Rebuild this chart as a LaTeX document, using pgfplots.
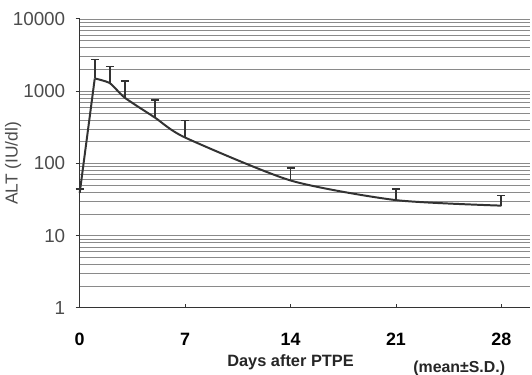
\documentclass[border=0pt]{standalone}
\usepackage{pgfplots}
\pgfplotsset{compat=1.18}
\usepackage{fontspec}
\setmainfont{Liberation Sans}
\definecolor{ln}{HTML}{333333}
\definecolor{gr}{HTML}{8A8A8A}
\begin{document}
\begin{tikzpicture}
\path[use as bounding box] (-80bp,-67bp) rectangle (454bp,309bp);
\begin{axis}[
  at={(0,0)}, anchor=south west,
  scale only axis,
  width=452bp, height=290bp,
  xmin=0, xmax=29.9,
  ymode=log, ymin=1, ymax=10000,
  log basis y=10,
  axis x line=bottom, axis y line=left,
  axis line style={ln, line width=1.3pt, -},
  xtick={0,7,14,21,28},
  ytick={1,10,100,1000,10000},
  yticklabels={1,10,100,1000,10000},
  minor ytick={2,3,4,5,6,7,8,9,20,30,40,50,60,70,80,90,200,300,400,500,600,700,800,900,2000,3000,4000,5000,6000,7000,8000,9000},
  /pgf/number format/assume math mode=true,
  ticklabel style={font=\fontsize{19}{21}\selectfont, text=black!70},
  xticklabel style={yshift=-22bp, font=\fontsize{18}{20}\selectfont\bfseries, text=black},
  yticklabel style={xshift=-7bp},
  tick style={ln, line width=0.9pt},
  xtick align=inside, major tick length=4bp,
  ytick align=outside,
  minor tick length=0pt,
  ymajorgrids, yminorgrids,
  major grid style={gr, line width=0.7pt},
  minor grid style={gr, line width=0.6pt},
  ylabel={ALT (IU/dl)},
  ylabel style={font=\fontsize{17.5}{19}\selectfont, text=black!70, at={(axis description cs:-0.148,0.5)}, anchor=center},
  clip=false,
]
\addplot[ln, line width=2pt] coordinates {(0,39) (1,1500)};
\addplot[ln, line width=2pt, smooth, tension=0.4] coordinates {
(1,1500) (2,1290) (3,810) (5,430) (7,228) (14,58) (21,31) (28,26)};
\addplot[ln, line width=2pt] coordinates {(28,26) (28,36)};
\addplot[draw=none, mark=none, forget plot,
  error bars/.cd, y dir=plus, y explicit,
  error bar style={ln, line width=1.6pt},
  error mark options={rotate=90, mark size=4bp, line width=1.8pt, ln}]
  coordinates {
  (0,39) +- (0,5)
  (1,1500) +- (0,1250)
  (2,1290) +- (0,910)
  (3,810) +- (0,570)
  (5,430) +- (0,330)
  (7,228) +- (0,165)
  (14,58) +- (0,28)
  (21,31) +- (0,13)
  (28,26) +- (0,10)
};
\node[font=\fontsize{16.5}{18}\selectfont\bfseries, text=black!85] at (axis cs:14,1) [yshift=-55bp] {Days after PTPE};
\node[font=\fontsize{16}{18}\selectfont\bfseries, text=black!85] at (axis cs:25.2,1) [yshift=-61bp] {(mean±S.D.)};
\end{axis}
\end{tikzpicture}
\end{document}
